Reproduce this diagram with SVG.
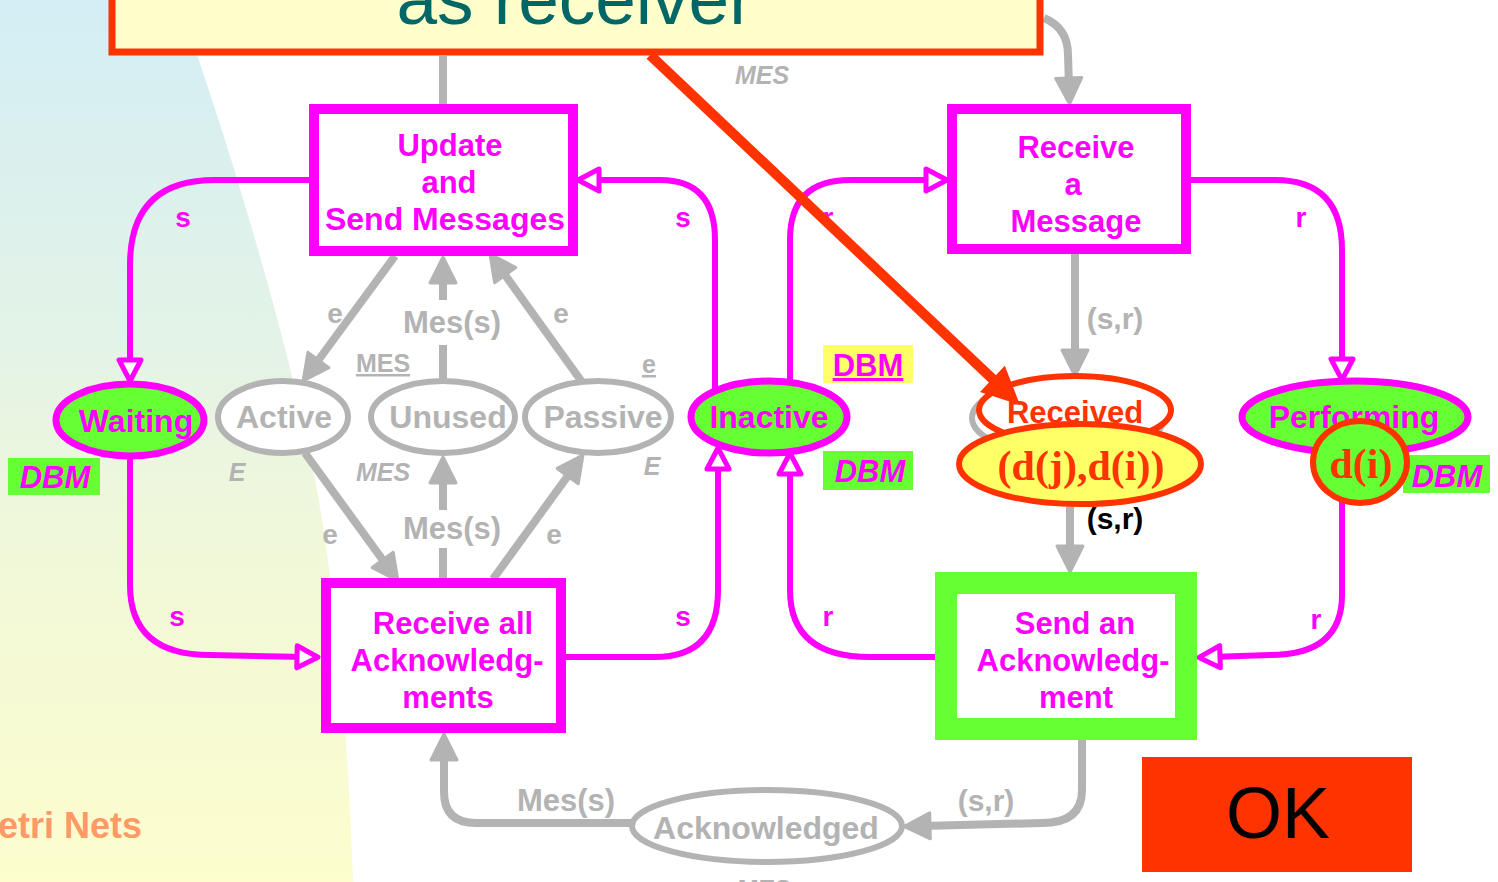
<svg xmlns="http://www.w3.org/2000/svg" width="1498" height="882" viewBox="0 0 1498 882">
  <defs>
    <linearGradient id="bgGrad" x1="0" y1="0" x2="0" y2="1">
      <stop offset="0" stop-color="#d3eef5"/>
      <stop offset="0.4" stop-color="#e4f3e6"/>
      <stop offset="0.6" stop-color="#f0f8da"/>
      <stop offset="1" stop-color="#fdfdcd"/>
    </linearGradient>
    <!-- filled grey arrowhead; path end sits 18px behind the tip -->
    <marker id="ag" markerUnits="userSpaceOnUse" markerWidth="34" markerHeight="32" refX="10" refY="15" orient="auto">
      <path d="M2,2 L28,15 L2,28 z" fill="#b3b3b3" stroke="#b3b3b3" stroke-width="3" stroke-linejoin="round"/>
    </marker>
    <!-- hollow magenta arrowhead; path end sits 12px behind the tip -->
    <marker id="am" markerUnits="userSpaceOnUse" markerWidth="32" markerHeight="32" refX="12" refY="15" orient="auto">
      <path d="M3,4 L24,15 L3,26 z" fill="#ffffff" stroke="#ff00ff" stroke-width="5" stroke-linejoin="round"/>
    </marker>
    <style>
      .t { font-family: "Liberation Sans", Arial, sans-serif; font-weight: bold; }
      .node { font-size: 31px; fill: #ff00ff; text-anchor: middle; }
      .big { font-size: 32px; }
      .gl { font-size: 30px; fill: #b3b3b3; text-anchor: middle; }
      .gl.e { font-size: 28px; }
      .gl.mes { font-size: 31px; }
      .gl.place { font-size: 32px; }
      .gl.u { font-size: 25px; text-decoration: underline; }
      .gi { font-size: 25px; fill: #b3b3b3; text-anchor: middle; font-style: italic; }
      .ml { font-size: 28px; fill: #ff00ff; text-anchor: middle; }
      .dbm { font-size: 31px; fill: #ff00ff; text-anchor: middle; font-style: italic; }
      .serif { font-family: "Liberation Serif", "Times New Roman", serif; font-weight: bold; fill: #ff3300; text-anchor: middle; font-size: 42px; }
      .mag { fill: none; stroke: #ff00ff; stroke-width: 6; marker-end: url(#am); }
      .gry { fill: none; stroke: #b3b3b3; stroke-width: 8; }
      .gra { marker-end: url(#ag); }
      .trans { fill: #ffffff; stroke: #ff00ff; stroke-width: 10; }
      .pg { fill: #ffffff; stroke: #b3b3b3; stroke-width: 6; }
      .pm { fill: #66ff33; stroke: #ff00ff; stroke-width: 7; }
    </style>
  </defs>

  <!-- backdrop -->
  <rect x="0" y="0" width="1498" height="882" fill="#ffffff"/>
  <path d="M0,0 L178,0 C235,160 300,380 322,520 S350,800 353,882 L0,882 Z" fill="url(#bgGrad)"/>
  <text class="t" x="-2" y="838" font-size="36" fill="#ff9966">etri Nets</text>

  <!-- connectors -->
  <g id="connectors">
    <!-- grey arcs -->
    <path class="gry" d="M443,56 V106"/>
    <path class="gry gra" d="M1044,18 Q1068,28 1068,55 L1069,86"/>
    <path class="gry gra" d="M395,256 L313.7,366.5"/>
    <path class="gry" d="M443,381 V345"/>
    <path class="gry gra" d="M443,300 V275"/>
    <path class="gry gra" d="M582,382 L500.5,268.6"/>
    <path class="gry gra" d="M305,453 L387.4,566.4"/>
    <path class="gry" d="M443,579 V548"/>
    <path class="gry gra" d="M443,510 V475"/>
    <path class="gry gra" d="M493,579 L572.4,469.6"/>
    <path class="gry gra" d="M1075,254 V358"/>
    <path class="gry gra" d="M1070,505 V554"/>
    <path class="gry gra" d="M1082,740 V790 Q1082,823 1042,823 L922,826"/>
    <path class="gry gra" d="M631,823 H476 Q444,823 444,792 V752"/>

    <!-- magenta arcs -->
    <path class="mag" d="M309,180 H215 Q130,180 130,265 V369"/>
    <path class="mag" d="M130,457 V585 Q130,655 210,655 L306,657"/>
    <path class="mag" d="M566,657 H655 Q718,657 718,590 V460"/>
    <path class="mag" d="M715,390 V240 Q715,180 660,180 H590"/>
    <path class="mag" d="M935,657 H870 Q790,657 790,590 V465"/>
    <path class="mag" d="M790,381 V240 Q790,180 850,180 H935"/>
    <path class="mag" d="M1191,180 H1275 Q1342,180 1342,250 V368"/>
    <path class="mag" d="M1342,455 V595 Q1342,655 1270,655 L1211,657"/>
  </g>

  <!-- arc inscriptions -->
  <g id="arc-labels" class="t">
    <text class="gl e" x="335" y="323">e</text>
    <text class="gl mes" x="452" y="333">Mes(s)</text>
    <text class="gl e" x="561" y="323">e</text>
    <text class="gl u" x="383" y="372">MES</text>
    <text class="gl u" x="649" y="373">e</text>
    <text class="gi" x="237" y="481">E</text>
    <text class="gi" x="383" y="481">MES</text>
    <text class="gi" x="652" y="475">E</text>
    <text class="gl e" x="330" y="544">e</text>
    <text class="gl mes" x="452" y="539">Mes(s)</text>
    <text class="gl e" x="554" y="544">e</text>
    <text class="gl" x="1115" y="329">(s,r)</text>
    <text class="t" x="1115" y="529" font-size="30" fill="#000000" text-anchor="middle">(s,r)</text>
    <text class="gl mes" x="566" y="811">Mes(s)</text>
    <text class="gl" x="986" y="811">(s,r)</text>
    <text class="gi" x="762" y="84">MES</text>
    <text class="gi" x="763" y="898">MES</text>
    <text class="ml" x="183" y="227">s</text>
    <text class="ml" x="683" y="227">s</text>
    <text class="ml" x="177" y="626">s</text>
    <text class="ml" x="683" y="626">s</text>
    <text class="ml" x="828" y="227">r</text>
    <text class="ml" x="1301" y="227">r</text>
    <text class="ml" x="828" y="626">r</text>
    <text class="ml" x="1316" y="629">r</text>
  </g>

  <!-- transitions -->
  <g id="t-update" class="t">
    <rect class="trans" x="314" y="109" width="259" height="142"/>
    <text class="node" x="450" y="156">Update</text>
    <text class="node" x="449" y="193">and</text>
    <text class="node big" x="445" y="230">Send Messages</text>
  </g>
  <g id="t-receive" class="t">
    <rect class="trans" x="952" y="109" width="234" height="140"/>
    <text class="node" x="1076" y="158">Receive</text>
    <text class="node" x="1073" y="195">a</text>
    <text class="node" x="1076" y="232">Message</text>
  </g>
  <g id="t-receive-all" class="t">
    <rect class="trans" x="326" y="583" width="235" height="145"/>
    <text class="node" x="453" y="634">Receive all</text>
    <text class="node" x="447" y="671">Acknowledg-</text>
    <text class="node" x="448" y="708">ments</text>
  </g>
  <g id="t-send-ack" class="t">
    <rect x="946" y="583" width="240" height="146" fill="#ffffff" stroke="#66ff33" stroke-width="22"/>
    <text class="node" x="1075" y="634">Send an</text>
    <text class="node" x="1073" y="671">Acknowledg-</text>
    <text class="node" x="1076" y="708">ment</text>
  </g>

  <!-- places -->
  <g id="p-waiting" class="t">
    <ellipse class="pm" cx="130" cy="420" rx="74" ry="36"/>
    <text class="node big" x="136" y="432">Waiting</text>
  </g>
  <g id="p-active" class="t">
    <ellipse class="pg" cx="283" cy="417" rx="65" ry="36"/>
    <text class="gl place" x="284" y="428">Active</text>
  </g>
  <g id="p-unused" class="t">
    <ellipse class="pg" cx="443" cy="417" rx="72" ry="36"/>
    <text class="gl place" x="448" y="428">Unused</text>
  </g>
  <g id="p-passive" class="t">
    <ellipse class="pg" cx="598" cy="417" rx="73" ry="36"/>
    <text class="gl place" x="603" y="428">Passive</text>
  </g>
  <g id="p-inactive" class="t">
    <ellipse class="pm" cx="769" cy="417" rx="78" ry="36"/>
    <text class="node big" x="769" y="428">Inactive</text>
  </g>
  <g id="p-received" class="t">
    <ellipse cx="1068" cy="418" rx="96" ry="37" fill="#ffffff" stroke="#b3b3b3" stroke-width="6"/>
    <ellipse cx="1075" cy="410" rx="96" ry="34" fill="#ffffff" stroke="#ff3300" stroke-width="6"/>
    <text class="node" x="1075" y="423" style="fill:#ff3300">Received</text>
  </g>
  <g id="p-token-pair">
    <ellipse cx="1080" cy="464" rx="121" ry="40" fill="#ffff66" stroke="#ff3300" stroke-width="6"/>
    <text class="serif" x="1081" y="480">(d(j),d(i))</text>
  </g>
  <g id="p-performing" class="t">
    <ellipse class="pm" cx="1355" cy="417" rx="113" ry="36"/>
    <text class="node big" x="1354" y="428">Performing</text>
  </g>
  <g id="p-acknowledged" class="t">
    <ellipse class="pg" cx="767" cy="826" rx="135" ry="36"/>
    <text class="gl place" x="766" y="839">Acknowledged</text>
  </g>

  <!-- DBM tags -->
  <g id="tag-dbm-left" class="t">
    <rect x="8" y="458" width="92" height="37" fill="#66ff33"/>
    <text class="dbm" x="55" y="488">DBM</text>
  </g>
  <g id="tag-dbm-inactive-top" class="t">
    <rect x="823" y="345" width="90" height="38" fill="#ffff66"/>
    <text class="t" x="868" y="376" font-size="31" fill="#ff00ff" text-anchor="middle" text-decoration="underline">DBM</text>
  </g>
  <g id="tag-dbm-inactive" class="t">
    <rect x="823" y="451" width="90" height="39" fill="#66ff33"/>
    <text class="dbm" x="870" y="482">DBM</text>
  </g>
  <g id="tag-dbm-performing" class="t">
    <rect x="1403" y="455" width="87" height="38" fill="#66ff33"/>
    <text class="dbm" x="1447" y="487">DBM</text>
  </g>

  <!-- token on Performing -->
  <g id="p-token-single">
    <ellipse cx="1360" cy="462" rx="47" ry="41" fill="#66ff33" stroke="#ff3300" stroke-width="6"/>
    <text class="serif" x="1361" y="478">d(i)</text>
  </g>

  <!-- caption box -->
  <g id="caption" class="t">
    <rect x="112" y="-60" width="928" height="112" fill="#ffffcc" stroke="#ff3300" stroke-width="7"/>
    <text x="575" y="24" font-size="73" font-weight="normal" fill="#006666" text-anchor="middle">as receiver</text>
  </g>

  <!-- pointer from caption to the received place -->
  <g id="pointer">
    <path d="M650,55 L1000,386" stroke="#ff3300" stroke-width="10" fill="none"/>
    <polygon points="1020,405 980,392 1004.8,365.8" fill="#ff3300"/>
  </g>

  <!-- OK button -->
  <g id="ok" class="t">
    <rect x="1142" y="757" width="270" height="115" fill="#ff3300"/>
    <text x="1278" y="838" font-size="72" font-weight="normal" fill="#000000" text-anchor="middle">OK</text>
  </g>
</svg>
